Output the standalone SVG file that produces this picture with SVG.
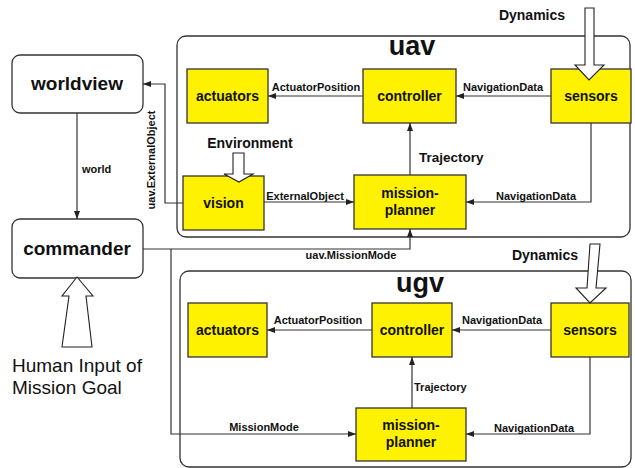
<svg xmlns="http://www.w3.org/2000/svg" width="635" height="468" viewBox="0 0 635 468">
  <defs>
    <marker id="arrow" markerUnits="userSpaceOnUse" markerWidth="8" markerHeight="6" refX="8" refY="3" orient="auto">
      <path d="M0,0 L8,3 L0,6 z" fill="#222"/>
    </marker>
    <style>
      text { font-family: "Liberation Sans", Arial, sans-serif; fill: #111; }
      .container { fill: #fff; stroke: #333; stroke-width: 1.3; }
      .ext { fill: #fff; stroke: #333; stroke-width: 1.3; }
      .comp { fill: #fff200; stroke: #333; stroke-width: 1.3; }
      .conn { fill: none; stroke: #333; stroke-width: 1.2; }
      .arrowed { marker-end: url(#arrow); }
      .block { fill: #fff; stroke: #222; stroke-width: 1.1; }
      .big { font-size: 19px; font-weight: bold; text-anchor: middle; }
      .title { font-size: 27px; font-weight: bold; text-anchor: middle; }
      .name { font-size: 14px; font-weight: bold; text-anchor: middle; }
      .lbl { font-size: 11px; font-weight: bold; }
      .mid { text-anchor: middle; }
      .env { font-size: 14px; font-weight: bold; text-anchor: middle; }
      .human { font-size: 19px; }
    </style>
  </defs>

  <!-- subsystem containers -->
  <g id="uav">
    <rect class="container" x="177" y="36" width="453" height="201" rx="9"/>
    <text class="title" x="412" y="55">uav</text>
  </g>
  <g id="ugv">
    <rect class="container" x="180" y="271" width="451" height="196" rx="9"/>
    <text class="title" x="420" y="292">ugv</text>
  </g>

  <!-- external nodes -->
  <g id="worldview">
    <rect class="ext" x="12" y="55" width="131" height="58" rx="8"/>
    <text class="big" x="77" y="90">worldview</text>
  </g>
  <g id="commander">
    <rect class="ext" x="12" y="219" width="131" height="59" rx="8"/>
    <text class="big" x="77" y="255">commander</text>
  </g>

  <!-- uav components -->
  <g id="uav-actuators">
    <rect class="comp" x="187" y="69" width="81" height="54"/>
    <text class="name" x="227.5" y="101">actuators</text>
  </g>
  <g id="uav-controller">
    <rect class="comp" x="363" y="69" width="93" height="54"/>
    <text class="name" x="409.5" y="101">controller</text>
  </g>
  <g id="uav-sensors">
    <rect class="comp" x="551" y="69" width="80" height="54"/>
    <text class="name" x="591" y="101">sensors</text>
  </g>
  <g id="uav-vision">
    <rect class="comp" x="183" y="176" width="81" height="54"/>
    <text class="name" x="223.5" y="208">vision</text>
  </g>
  <g id="uav-mission-planner">
    <rect class="comp" x="354" y="175" width="112" height="54"/>
    <text class="name" x="410" y="198">mission-</text>
    <text class="name" x="410" y="215">planner</text>
  </g>

  <!-- ugv components -->
  <g id="ugv-actuators">
    <rect class="comp" x="188" y="303" width="79" height="54"/>
    <text class="name" x="227.5" y="335">actuators</text>
  </g>
  <g id="ugv-controller">
    <rect class="comp" x="372" y="303" width="80" height="54"/>
    <text class="name" x="412" y="335">controller</text>
  </g>
  <g id="ugv-sensors">
    <rect class="comp" x="551" y="303" width="78" height="54"/>
    <text class="name" x="590" y="335">sensors</text>
  </g>
  <g id="ugv-mission-planner">
    <rect class="comp" x="356" y="408" width="110" height="53"/>
    <text class="name" x="411" y="430">mission-</text>
    <text class="name" x="411" y="447">planner</text>
  </g>

  <!-- connectors -->
  <g id="connectors">
    <!-- uav -->
    <path class="conn arrowed" d="M363,96 H268"/>
    <path class="conn arrowed" d="M551,96 H456"/>
    <path class="conn arrowed" d="M410,175 V123"/>
    <path class="conn arrowed" d="M591,123 V202 H466"/>
    <path class="conn arrowed" d="M264,202 H354"/>
    <path class="conn arrowed" d="M183,203 H165 V84 H143"/>
    <!-- worldview to commander -->
    <path class="conn arrowed" d="M77,113 V219"/>
    <!-- commander to both mission planners -->
    <path class="conn arrowed" d="M143,249 H410 V229"/>
    <path class="conn arrowed" d="M171,249 V434 H356"/>
    <!-- ugv -->
    <path class="conn arrowed" d="M372,330 H267"/>
    <path class="conn arrowed" d="M551,330 H452"/>
    <path class="conn arrowed" d="M412,408 V357"/>
    <path class="conn arrowed" d="M590,357 V434 H466"/>

    <!-- connector labels -->
    <text class="lbl mid" x="316" y="91">ActuatorPosition</text>
    <text class="lbl mid" x="503" y="91">NavigationData</text>
    <text class="lbl" x="419" y="162" style="font-size:13.5px">Trajectory</text>
    <text class="lbl mid" x="536" y="200">NavigationData</text>
    <text class="lbl mid" x="305" y="200">ExternalObject</text>
    <text class="lbl mid" transform="translate(155,160) rotate(-90)">uav.ExternalObject</text>
    <text class="lbl" x="82" y="173">world</text>
    <text class="lbl mid" x="351" y="259">uav.MissionMode</text>
    <text class="lbl mid" x="264" y="431">MissionMode</text>
    <text class="lbl mid" x="318" y="324">ActuatorPosition</text>
    <text class="lbl mid" x="502" y="324">NavigationData</text>
    <text class="lbl" x="414" y="391">Trajectory</text>
    <text class="lbl mid" x="534" y="432">NavigationData</text>
  </g>

  <!-- environmental inputs -->
  <g id="dynamics-uav">
    <text class="env" x="532" y="20">Dynamics</text>
    <polygon class="block" points="585,8 594,8 594,65 604,65 589,80 575,65 585,65"/>
  </g>
  <g id="dynamics-ugv">
    <text class="env" x="545" y="260">Dynamics</text>
    <polygon class="block" points="590,244 600,244 596,288 606,288 590,303 576,288 587,288"/>
  </g>
  <g id="environment">
    <text class="env" x="250" y="148">Environment</text>
    <polygon class="block" points="233,153 244,153 244,174 253,174 239,182 224,174 233,174"/>
  </g>
  <g id="human-input">
    <polygon class="block" points="77,277 93,296 86,296 92,347 62,347 69,296 62,296"/>
    <text class="human" x="12" y="372">Human Input of</text>
    <text class="human" x="12" y="394">Mission Goal</text>
  </g>
</svg>
